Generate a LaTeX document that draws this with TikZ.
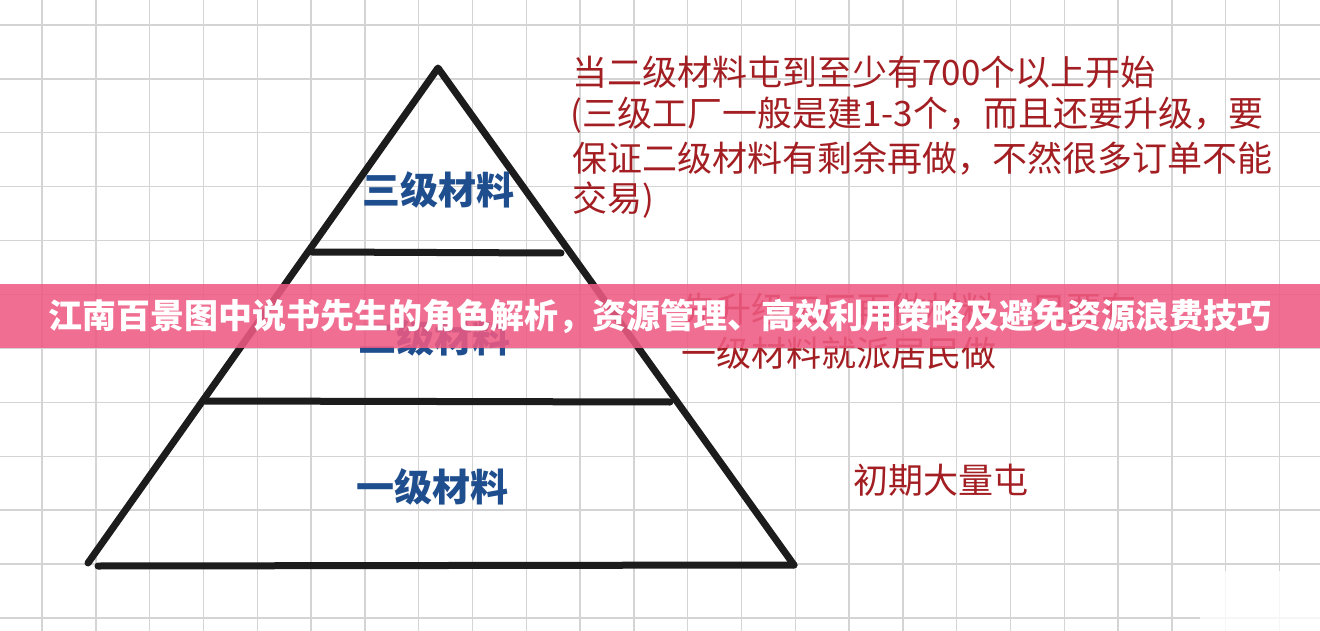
\documentclass[tikz,border=0pt]{standalone}
\usepackage{fontspec}
\newfontfamily\cjk{Noto Sans CJK SC}
\definecolor{gridc}{HTML}{D4D4D4}
\definecolor{inkc}{HTML}{1C1C1C}
\definecolor{redc}{HTML}{A31E22}
\definecolor{bluec}{HTML}{1F4E8E}
\definecolor{pinkc}{HTML}{EE5A82}
\tikzset{
  gridline/.style={gridc, line width=1.4pt},
  edge/.style={inkc, line width=7pt, line cap=round, line join=round},
  layer/.style={font=\cjk\bfseries\fontsize{38}{40}\selectfont, text=bluec, inner sep=0pt},
  note/.style={font=\cjk\fontsize{35}{37}\selectfont, text=redc, inner sep=0pt, anchor=west},
  bannertext/.style={font=\cjk\bfseries\fontsize{34}{36}\selectfont, text=white, inner sep=0pt}
}
\begin{document}
\begin{tikzpicture}[x=1pt, y=-1pt]
\useasboundingbox (0,0) rectangle (1320,631);
\fill[white] (0,0) rectangle (1320,631);
% grid
\foreach \i in {0,...,24} { \draw[gridline] ({42+53.8*\i},0) -- ({42+53.8*\i},631); }
\foreach \j in {0,...,11} { \draw[gridline] (0,{25+53.9*\j}) -- (1320,{25+53.9*\j}); }
% pyramid
\coordinate (apex) at (438,68);
\coordinate (bl) at (88,563);
\coordinate (br) at (794,565);
\coordinate (b0) at (98,566);
\coordinate (d1l) at (312,252);
\coordinate (d1r) at (561,253);
\coordinate (d2l) at (205,401);
\coordinate (d2r) at (670,402);
\draw[edge] (bl) -- (apex) -- (br);
\draw[edge] (b0) -- (br);
\draw[edge] (d1l) -- (d1r);
\draw[edge] (d2l) -- (d2r);
% layer labels
\node[layer] (l3) at (438,190) {三级材料};
\node[layer] (l2) at (434,338) {二级材料};
\node[layer] (l1) at (432,487) {一级材料};
% notes
\node[note] (n1) at (572,72) {当二级材料屯到至少有700个以上开始};
\node[note] (n2) at (570,115) {(三级工厂一般是建1-3个，而且还要升级，要};
\node[note] (n3) at (572,158) {保证二级材料有剩余再做，不然很多订单不能};
\node[note] (n4) at (572,200) {交易)};
\node[note] (n5) at (681,310) {先升级工厂再做材料，只要有};
\node[note] (n6) at (681,353) {一级材料就派居民做};
\node[note] (n7) at (853,480) {初期大量屯};
% banner
\fill[pinkc, opacity=0.88] (0,284) rectangle (1320,348);
\node[bannertext] (title) at (660,316) {江南百景图中说书先生的角色解析，资源管理、高效利用策略及避免资源浪费技巧};
% watermark patch
\fill[white, opacity=0.8] (1200,571) rectangle (1320,631);
\end{tikzpicture}
\end{document}
